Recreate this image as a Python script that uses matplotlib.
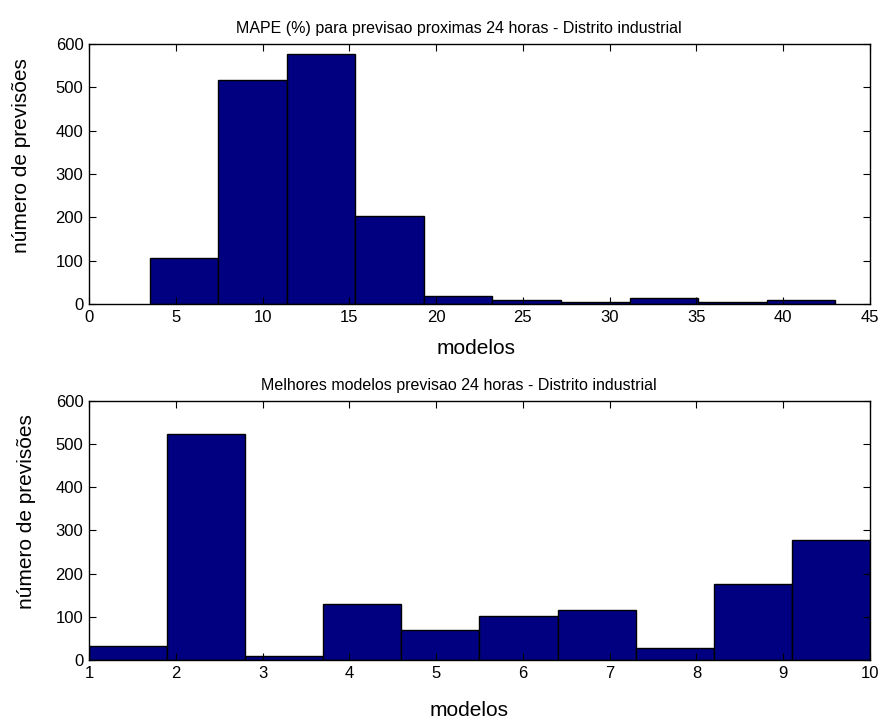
import matplotlib.pyplot as plt
import numpy as np

# histogram of forecast MAPE (%)
mape_edges = [3.5, 7.45, 11.4, 15.35, 19.3, 23.25, 27.2, 31.15, 35.1, 39.05, 43.0]
mape_counts = [106, 517, 577, 203, 18, 9, 4, 14, 4, 9]

# histogram of best model index
model_edges = [1.0, 1.9, 2.8, 3.7, 4.6, 5.5, 6.4, 7.3, 8.2, 9.1, 10.0]
model_counts = [33, 523, 10, 130, 70, 102, 116, 28, 176, 278]

font = ['Liberation Sans', 'DejaVu Sans']
bar_color = '#000080'


def draw_hist(ax, edges, counts, title, xticks, xlim):
    edges = np.array(edges)
    ax.bar(edges[:-1], counts, width=np.diff(edges), align='edge',
           color=bar_color, edgecolor='black', linewidth=1.0)
    ax.set_xlim(xlim)
    ax.set_ylim(0, 600)
    ax.set_xticks(xticks)
    ax.set_yticks(range(0, 601, 100))
    ax.tick_params(direction='in', top=True, right=True, length=5,
                   width=0.8, labelsize=12, pad=4)
    for lab in ax.get_xticklabels() + ax.get_yticklabels():
        lab.set_family(font)
    ax.set_title(title, fontsize=11.5, family=font, x=0.473, pad=8)
    ax.set_ylabel('número de previsões', fontsize=15, family=font)
    for s in ax.spines.values():
        s.set_linewidth(1.0)


fig = plt.figure(figsize=(8.8, 7.22), dpi=100)

ax1 = fig.add_axes([0.1011, 0.5789, 0.8875, 0.360])
draw_hist(ax1, mape_edges, mape_counts,
          'MAPE (%) para previsao proximas 24 horas - Distrito industrial',
          range(0, 46, 5), (0, 45))
ax1.set_xlabel('modelos', fontsize=15, family=font)
ax1.xaxis.set_label_coords(0.496, -0.135)
ax1.yaxis.set_label_coords(-0.074, 0.573)

ax2 = fig.add_axes([0.1011, 0.0859, 0.8875, 0.3587])
draw_hist(ax2, model_edges, model_counts,
          'Melhores modelos previsao 24 horas - Distrito industrial',
          range(1, 11), (1, 10))
ax2.set_xlabel('modelos', fontsize=15, family=font)
ax2.xaxis.set_label_coords(0.487, -0.16)
ax2.yaxis.set_label_coords(-0.068, 0.575)

fig.savefig('out.png', dpi=100)
